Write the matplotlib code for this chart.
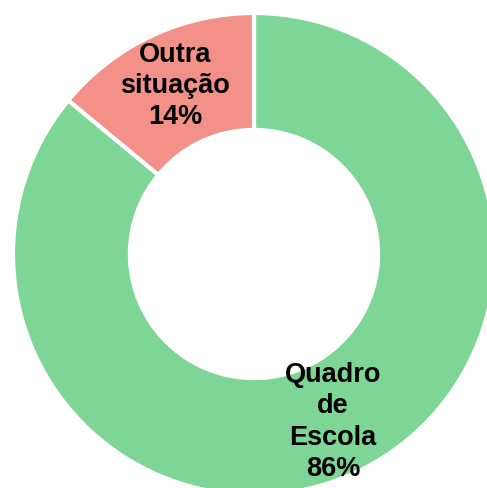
import matplotlib.pyplot as plt
from matplotlib import font_manager

labels = ["Quadro\nde\nEscola", "Outra\nsituação"]
values = [86, 14]
colors = ["#7dd695", "#f39088"]

names = {f.name for f in font_manager.fontManager.ttflist}
family = ["Liberation Sans Narrow", "DejaVu Sans"] if "Liberation Sans Narrow" in names else ["Liberation Sans", "DejaVu Sans"]

fig = plt.figure(figsize=(4.87, 4.88), dpi=100)
ax = fig.add_axes([(254 - 241) / 487, (234 - 241) / 488, 482 / 487, 482 / 488])

def fmt(pct, it=iter(labels)):
    return "%s\n%d%%" % (next(it), round(pct))

wedges, texts, autotexts = ax.pie(values, colors=colors, startangle=90, counterclock=False,
                                  radius=1, autopct=fmt, pctdistance=0.77,
                                  wedgeprops=dict(width=0.485, edgecolor="white", linewidth=3))
for t in autotexts:
    t.set_fontfamily(family)
    t.set_fontsize(19.5)
    t.set_fontweight("bold")
    t.set_linespacing(1.27)

ax.set_xlim(-1, 1)
ax.set_ylim(-1, 1)
ax.set_aspect("equal")
ax.axis("off")
fig.savefig("out.png", dpi=100)
